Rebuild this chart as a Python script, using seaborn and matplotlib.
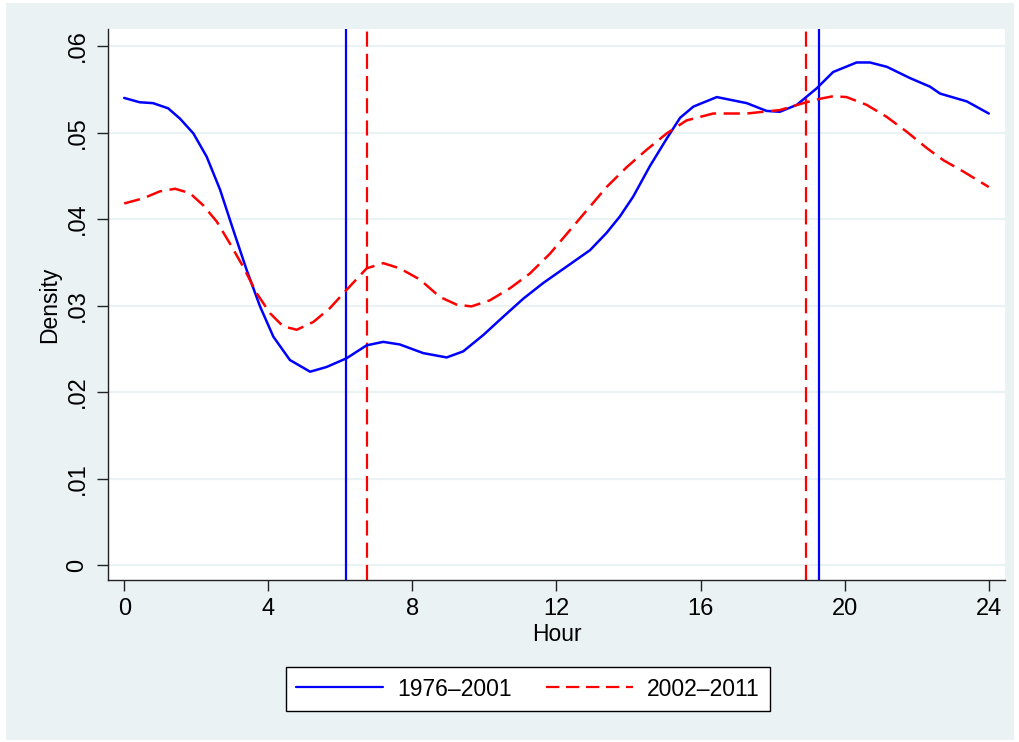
import matplotlib
matplotlib.use("Agg")
import matplotlib.pyplot as plt
from matplotlib.patches import Rectangle
from matplotlib.lines import Line2D
import numpy as np
import pandas as pd
import seaborn as sns

# hour-of-day densities
hour_early = [0, 0.43, 0.8, 1.22, 1.55, 1.92, 2.29, 2.66, 3.03, 3.4, 3.77, 4.14, 4.6,
              5.16, 5.62, 6.17, 6.73, 7.19, 7.65, 8.3, 8.95, 9.41, 9.97, 10.52, 11.08,
              11.63, 12.28, 12.93, 13.39, 13.76, 14.13, 14.59, 15.06, 15.43, 15.8,
              16.45, 17.28, 17.83, 18.2, 18.67, 19.22, 19.68, 20.33, 20.7, 21.17,
              21.81, 22.37, 22.65, 23.39, 24]
dens_early = [0.0540, 0.0535, 0.0534, 0.0528, 0.0516, 0.0499, 0.0472, 0.0434, 0.0387,
              0.0341, 0.0299, 0.0264, 0.0237, 0.02235, 0.0229, 0.0239, 0.0254, 0.0258,
              0.0255, 0.0245, 0.0240, 0.0247, 0.0266, 0.0287, 0.0308, 0.0326, 0.0345,
              0.0364, 0.0384, 0.0403, 0.0426, 0.0461, 0.0493, 0.0517, 0.0530, 0.0541,
              0.0534, 0.0525, 0.0524, 0.0532, 0.0551, 0.0570, 0.0581, 0.0581, 0.0576,
              0.0563, 0.0553, 0.0545, 0.0536, 0.0522]

hour_late = [0, 0.53, 0.99, 1.41, 1.82, 2.19, 2.57, 2.93, 3.3, 3.68, 4.05, 4.41, 4.79,
             5.25, 5.71, 6.17, 6.73, 7.19, 7.65, 8.21, 8.76, 9.23, 9.64, 10.15, 10.71,
             11.26, 11.82, 12.37, 12.84, 13.39, 13.95, 14.5, 15.06, 15.61, 16.35, 17.28,
             18.2, 18.85, 19.31, 19.68, 20.05, 20.61, 21.17, 21.72, 22.28, 22.74, 23.29, 24]
dens_late = [0.0418, 0.0424, 0.0432, 0.0435, 0.0430, 0.0416, 0.0397, 0.0372, 0.0345,
             0.0314, 0.0291, 0.0276, 0.0272, 0.0281, 0.0297, 0.0318, 0.0343, 0.0349,
             0.0343, 0.0330, 0.0310, 0.0301, 0.0299, 0.0306, 0.0320, 0.0337, 0.0360,
             0.0387, 0.0410, 0.0437, 0.0460, 0.0480, 0.0499, 0.0514, 0.0522, 0.0522,
             0.0526, 0.0534, 0.0539, 0.0542, 0.0541, 0.0532, 0.0518, 0.0501, 0.0482,
             0.0468, 0.0455, 0.0437]

periods = ["1976\u20132001", "2002\u20132011"]
# medians (vertical reference lines)
vline_early = [6.17, 19.28]
vline_late = [6.74, 18.93]

xticks = [0, 4, 8, 12, 16, 20, 24]
yticks = [0, 0.01, 0.02, 0.03, 0.04, 0.05, 0.06]
yticklabels = ["0", ".01", ".02", ".03", ".04", ".05", ".06"]

BG = "#EAF2F3"
BLUE = "#0000FF"
RED = "#FF0000"


def plot():
    sns.set_style("white", {"text.color": "black", "axes.labelcolor": "black",
                            "xtick.color": "black", "ytick.color": "black",
                            "xtick.bottom": True, "ytick.left": True})
    plt.rcParams["font.family"] = ["Liberation Sans", "DejaVu Sans"]

    df = pd.concat([
        pd.DataFrame({"Hour": hour_early, "Density": dens_early, "period": periods[0]}),
        pd.DataFrame({"Hour": hour_late, "Density": dens_late, "period": periods[1]}),
    ])

    fig = plt.figure(figsize=(10.2, 7.42), dpi=100, facecolor="white")
    fig.patches.append(Rectangle((6 / 1020, 2 / 742), 1008 / 1020, 737 / 742,
                                 transform=fig.transFigure, facecolor=BG,
                                 edgecolor="none", zorder=-10))
    ax = fig.add_axes([108 / 1020, 1 - 580 / 742, 897 / 1020, 551 / 742])
    ax.set_facecolor("white")

    for yv in yticks:
        ax.axhline(yv, color=BG, lw=1.6, zorder=0)

    sns.lineplot(data=df, x="Hour", y="Density", hue="period", style="period",
                 palette={periods[0]: BLUE, periods[1]: RED},
                 dashes={periods[0]: "", periods[1]: (6.5, 3.0)},
                 lw=1.8, legend=False, ax=ax, zorder=3)

    for xv in vline_early:
        ax.axvline(xv, color=BLUE, lw=1.6, zorder=2)
    for xv in vline_late:
        ax.axvline(xv, color=RED, lw=1.6, ls=(0, (6.8, 3.2)), zorder=2)

    ax.set_xlim(-0.45, 24.45)
    ax.set_ylim(-0.00173, 0.06197)
    ax.set_xticks(xticks)
    ax.set_xticklabels([str(t) for t in xticks])
    ax.set_yticks(yticks)
    ax.set_yticklabels(yticklabels, rotation=90, va="center")
    ax.tick_params(axis="both", direction="out", length=8, width=1.0,
                   bottom=True, left=True,
                   labelsize=17, color="#222222", labelcolor="black", pad=5)
    ax.tick_params(axis="y", pad=6)

    for s in ["top", "right"]:
        ax.spines[s].set_visible(False)
    for s in ["left", "bottom"]:
        ax.spines[s].set_color("#222222")
        ax.spines[s].set_linewidth(1.0)

    ax.set_xlabel("Hour", fontsize=16.5, labelpad=2, color="black")
    ax.set_ylabel("Density", fontsize=16.5, labelpad=4, color="black")

    handles = [Line2D([], [], color=BLUE, lw=1.6),
               Line2D([], [], color=RED, lw=1.6, ls=(0, (6.0, 3.0)))]
    leg = fig.legend(handles, periods, loc="center", ncol=2,
                     bbox_to_anchor=(528 / 1020, 1 - 689 / 742),
                     fontsize=16.5, frameon=True, fancybox=False, framealpha=1,
                     edgecolor="black", handlelength=3.8, handletextpad=0.6,
                     columnspacing=1.5, borderpad=0.45)
    leg.get_frame().set_linewidth(1.0)
    for t in leg.get_texts():
        t.set_color("black")

    fig.savefig("out.png", dpi=100, facecolor="white")


if __name__ == "__main__":
    plot()
